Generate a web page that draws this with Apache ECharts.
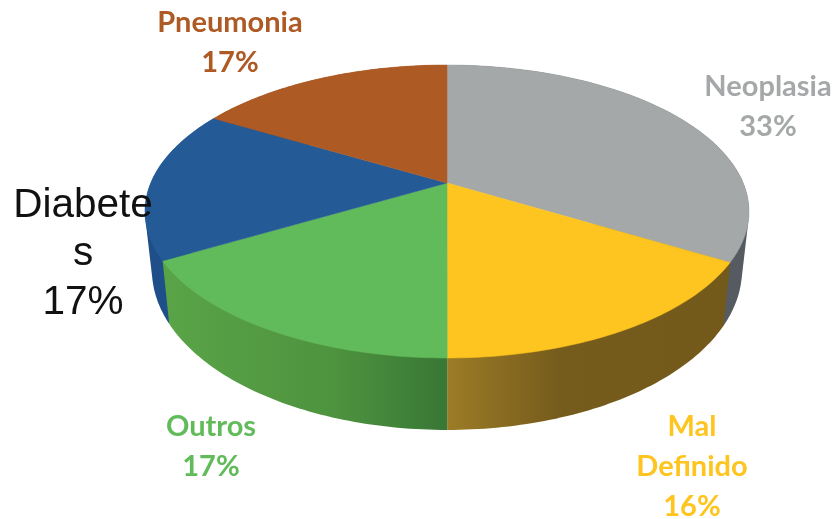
<!DOCTYPE html>
<html><head><meta charset="utf-8">
<style>html,body{margin:0;padding:0;background:#fff}#c{width:835px;height:519px}</style>
<script src="https://cdn.jsdelivr.net/npm/echarts@6/dist/echarts.min.js"></script>
</head><body><div id="c"></div>
<script>
// Data
const categories = ['Neoplasia', 'Mal\nDefinido', 'Outros', 'Diabetes', 'Pneumonia'];
const sliceValues = [33.49, 16.5, 16.7, 16.7, 16.61];
const percentLabels = ['33%', '16%', '17%', '17%', '17%'];

// Styling
const topColors = ['#a5a8a8', '#fec41f', '#62bb5a', '#245a96', '#ae5a24'];
const sideStops = [
  [[0, '#555b61'], [1, '#555b61']],
  [[0, '#9c7c26'], [0.4, '#755b1c'], [1, '#735a1b']],
  [[0, '#5aa447'], [0.6, '#4e933f'], [1, '#387735']],
  [[0, '#1f4f88'], [1, '#1f4f88']],
  [[0, '#8a4a1e'], [1, '#8a4a1e']]
];
const wallLayer = [1, 2, 3, 1, 0];
const labelStyle = [
  { x: 768, y: 107, color: '#a5a8a8' },
  { x: 692, y: 467, color: '#fec41f' },
  { x: 211, y: 447, color: '#62bb5a' },
  { x: 83, y: 254, color: '#111111', plain: true, text: 'Diabete\ns\n17%' },
  { x: 230, y: 43, color: '#ae5a24' }
];

// Perspective of the disc: the hub sits above the centre of the rim ellipse
const HUB_SHIFT = 0.1945;
const LOWER = { rx: 0.977, ry: 1.092, cy: -0.399 };
function project(angle) {
  const u = Math.sin(angle), v = Math.cos(angle), d = 1 + HUB_SHIFT * v;
  return [u * Math.sqrt(1 - HUB_SHIFT * HUB_SHIFT) / d, (v + HUB_SHIFT) / d];
}
const total = sliceValues.reduce((a, b) => a + b, 0);
function sweep(i) {
  const before = sliceValues.slice(0, i).reduce((a, b) => a + b, 0);
  return [before / total * 2 * Math.PI, (before + sliceValues[i]) / total * 2 * Math.PI];
}
function rim(i) {
  const [a, b] = sweep(i), pts = [], n = 60;
  for (let k = 0; k <= n; k++) pts.push(project(a + (b - a) * k / n));
  return pts;
}
// The wall of a slice is the hull of its upper and lower rims, so the outline stays unbroken
function hull(points) {
  const p = points.slice().sort((a, b) => a[0] - b[0] || a[1] - b[1]);
  const cross = (o, a, b) => (a[0] - o[0]) * (b[1] - o[1]) - (a[1] - o[1]) * (b[0] - o[0]);
  const half = list => {
    const out = [];
    for (const q of list) {
      while (out.length > 1 && cross(out[out.length - 2], out[out.length - 1], q) <= 0) out.pop();
      out.push(q);
    }
    out.pop();
    return out;
  };
  return half(p).concat(half(p.slice().reverse()));
}
const rows = sliceValues.map((v, i) => [i, v]);

const option = {
  animation: false,
  grid: { left: 0, right: 0, top: 0, bottom: 0 },
  xAxis: { type: 'value', min: -1.4801, max: 1.2848, show: false },
  yAxis: { type: 'value', min: -2.099, max: 1.4437, show: false },
  series: [
    {
      type: 'custom', silent: true, clip: false, data: rows, z: 1,
      renderItem(params, api) {
        const i = params.dataIndex, r = rim(i);
        const up = r.map(p => api.coord(p));
        const low = r.map(p => api.coord([p[0] * LOWER.rx, LOWER.cy + p[1] * LOWER.ry]));
        return {
          type: 'polygon',
          z2: wallLayer[i],
          shape: { points: hull(up.concat(low)) },
          style: {
            fill: new echarts.graphic.LinearGradient(0, 0, 1, 0,
              sideStops[i].map(s => ({ offset: s[0], color: s[1] })))
          }
        };
      }
    },
    {
      type: 'custom', silent: true, clip: false, data: rows, z: 2,
      renderItem(params, api) {
        const i = params.dataIndex;
        const pts = [api.coord([0, HUB_SHIFT])].concat(rim(i).map(p => api.coord(p)));
        return {
          type: 'polygon',
          shape: { points: pts },
          style: { fill: topColors[i], stroke: topColors[i], lineWidth: 0.5 }
        };
      }
    }
  ],
  graphic: categories.map((c, i) => {
    const s = labelStyle[i];
    return {
      type: 'text', x: s.x, y: s.y, z: 10,
      style: {
        text: s.text || (c + '\n' + percentLabels[i]),
        align: 'center', verticalAlign: 'middle',
        fill: s.color,
        font: s.plain ? '400 40.5px "Liberation Sans"' : '700 29px Lato',
        lineHeight: s.plain ? 48.5 : 40
      }
    };
  })
};
echarts.init(document.getElementById('c'), null, { renderer: 'canvas' }).setOption(option);
</script></body></html>
